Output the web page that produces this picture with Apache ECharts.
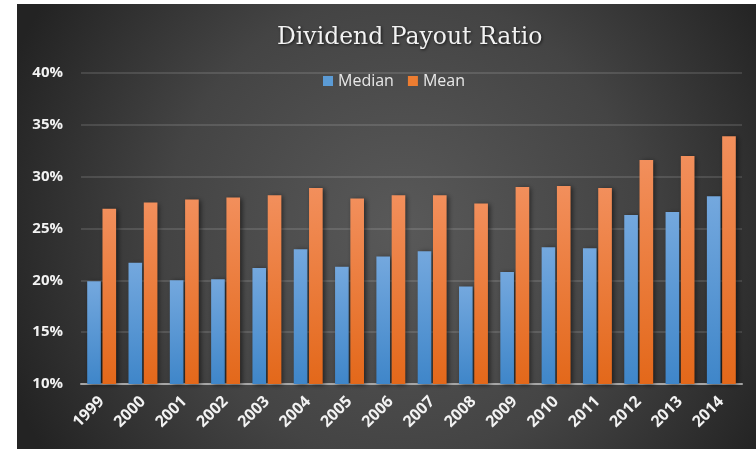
<!DOCTYPE html>
<html>
<head>
<meta charset="utf-8">
<script src="https://cdn.jsdelivr.net/npm/echarts@6/dist/echarts.min.js"></script>
<style>
  html, body { margin: 0; padding: 0; background: #fff; }
  #main { width: 756px; height: 449px; }
</style>
</head>
<body>
<div id="main"></div>
<script>
  // data
  var years = ['1999', '2000', '2001', '2002', '2003', '2004', '2005', '2006',
    '2007', '2008', '2009', '2010', '2011', '2012', '2013', '2014'];
  var median = [19.9, 21.7, 20.0, 20.1, 21.2, 23.0, 21.3, 22.3,
    22.8, 19.4, 20.8, 23.2, 23.1, 26.3, 26.6, 28.1];
  var mean = [26.9, 27.5, 27.8, 28.0, 28.2, 28.9, 27.9, 28.2,
    28.2, 27.4, 29.0, 29.1, 28.9, 31.6, 32.0, 33.9];
  var yTicks = [10, 15, 20, 25, 30, 35, 40];

  var chart = echarts.init(document.getElementById('main'));

  function grad(top, bottom) {
    return new echarts.graphic.LinearGradient(0, 0, 0, 1, [
      { offset: 0, color: top },
      { offset: 1, color: bottom }
    ]);
  }

  var option = {
    backgroundColor: '#ffffff',
    animation: false,
    graphic: [{
      type: 'rect',
      z: -10,
      silent: true,
      shape: { x: 17, y: 4, width: 739, height: 445 },
      style: {
        fill: new echarts.graphic.RadialGradient(0.52, 0.5, 0.95, [
          { offset: 0, color: '#595959' },
          { offset: 0.55, color: '#444444' },
          { offset: 1, color: '#232323' }
        ])
      }
    }],
    title: {
      text: 'Dividend Payout Ratio',
      left: 272,
      top: 21,
      textStyle: {
        fontFamily: 'DejaVu Serif',
        fontWeight: 'normal',
        fontSize: 23.5,
        color: '#f2f2f2',
        textShadowColor: 'rgba(0,0,0,0.7)',
        textShadowBlur: 3,
        textShadowOffsetX: 1,
        textShadowOffsetY: 1
      }
    },
    legend: {
      left: 318,
      top: 68,
      itemWidth: 10,
      itemHeight: 10,
      itemGap: 14,
      icon: 'rect',
      textStyle: { fontFamily: 'Open Sans', fontSize: 16, color: '#e8e8e8' },
      data: ['Median', 'Mean']
    },
    grid: { left: 81, right: 14, top: 73, bottom: 65, containLabel: false },
    xAxis: {
      type: 'category',
      data: years,
      axisTick: { show: false },
      axisLine: { lineStyle: { color: '#a6a6a6', width: 2 } },
      axisLabel: {
        rotate: 45,
        margin: 15,
        interval: 0,
        color: '#f2f2f2',
        fontFamily: 'Open Sans',
        fontWeight: 'bold',
        fontSize: 16
      }
    },
    yAxis: {
      type: 'value',
      min: yTicks[0],
      max: yTicks[yTicks.length - 1],
      interval: 5,
      axisLine: { show: false },
      axisTick: { show: false },
      splitLine: { lineStyle: { color: 'rgba(255,255,255,0.12)', width: 2 } },
      axisLabel: {
        margin: 18,
        color: '#f2f2f2',
        fontFamily: 'Open Sans',
        fontWeight: 'bold',
        fontSize: 15,
        formatter: '{value}%'
      }
    },
    series: [
      {
        name: 'Median',
        type: 'bar',
        data: median,
        barGap: '12%',
        barCategoryGap: '30%',
        itemStyle: {
          color: grad('#74a8de', '#3f86c9'),
          shadowColor: 'rgba(0,0,0,0.55)',
          shadowBlur: 5,
          shadowOffsetX: 2,
          shadowOffsetY: 1
        }
      },
      {
        name: 'Mean',
        type: 'bar',
        data: mean,
        itemStyle: {
          color: grad('#f28f5c', '#e3681a'),
          shadowColor: 'rgba(0,0,0,0.55)',
          shadowBlur: 5,
          shadowOffsetX: 2,
          shadowOffsetY: 1
        }
      }
    ]
  };

  // legend swatches are solid
  option.legend.data = [
    { name: 'Median', itemStyle: { color: '#5b9bd5', shadowBlur: 0 } },
    { name: 'Mean', itemStyle: { color: '#ed7d31', shadowBlur: 0 } }
  ];

  chart.setOption(option);
</script>
</body>
</html>
